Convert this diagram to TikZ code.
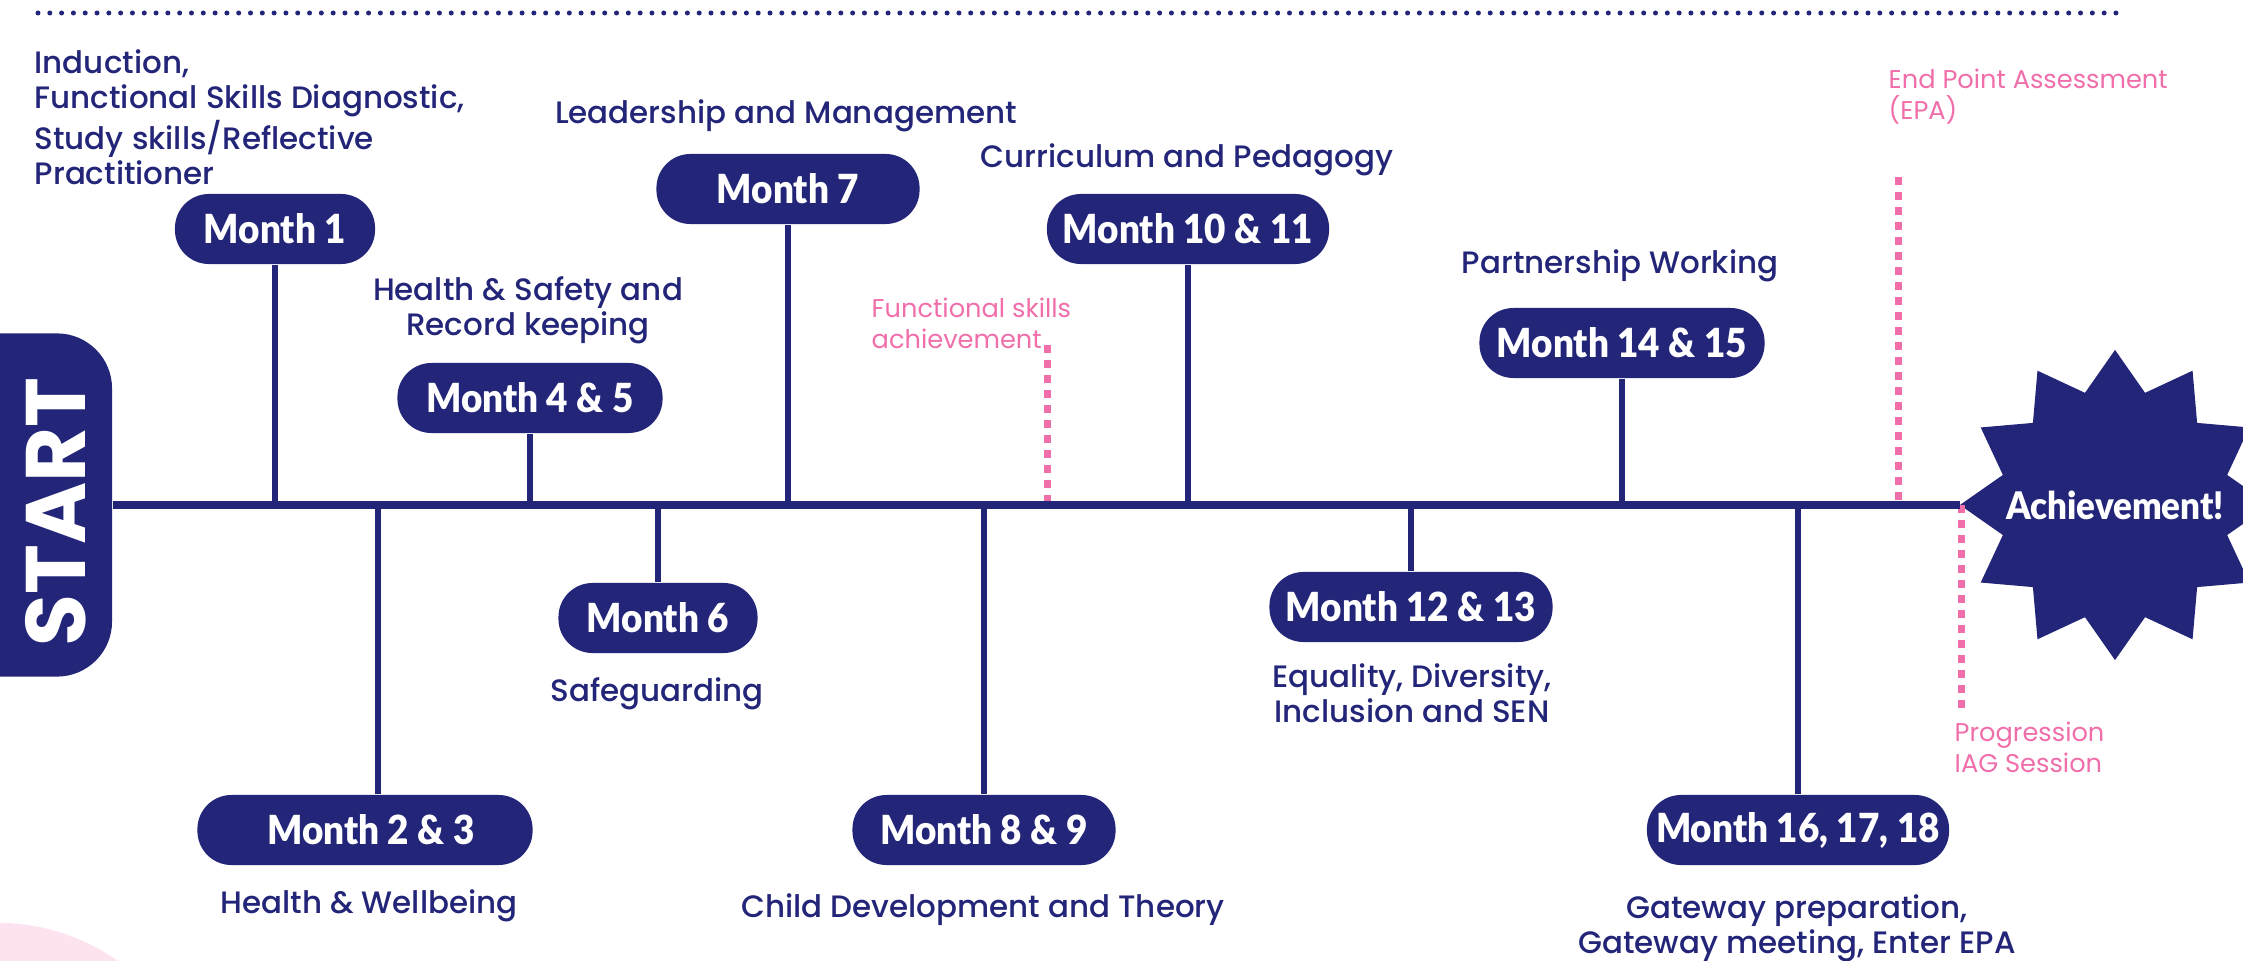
\documentclass[tikz,border=0pt]{standalone}
\usepackage{fontspec}
\setmainfont{Poppins}
\IfFontExistsTF{Poppins Medium}{\newfontfamily\descfont{Poppins Medium}}{%
  \IfFontExistsTF{Poppins SemiBold}{\newfontfamily\descfont{Poppins SemiBold}}{\newfontfamily\descfont{Poppins}[FakeBold=0.8]}}
\IfFontExistsTF{Lato Black}{%
  \newfontfamily\pillbase{Lato Black}[FakeStretch=0.92]\newcommand\pillfont{\pillbase}}{%
  \newfontfamily\pillbase{Lato}[FakeStretch=0.92]\newcommand\pillfont{\pillbase\bfseries}}
\usetikzlibrary{shapes.geometric}
\definecolor{navy}{RGB}{35,37,121}
\definecolor{pinktext}{RGB}{240,110,170}
\definecolor{blush}{RGB}{253,226,239}

\begin{document}
\begin{tikzpicture}[x=0.01cm,y=-0.01cm,
    pill/.style={fill=navy, rounded corners=0.34cm, minimum height=0.7cm, inner sep=0pt,
      text=white, font=\pillfont\fontsize{11.4}{13}\selectfont},
    topic/.style={text=navy, inner sep=0pt, align=center, font=\descfont\fontsize{8.8}{10}\selectfont},
    note/.style={text=pinktext, inner sep=0pt, align=left, font=\fontsize{7.3}{8.8}\selectfont},
    stemline/.style={draw=navy, line width=0.065cm},
    pinkdash/.style={draw=pinktext, line width=0.07cm, dash pattern=on 0.08cm off 0.07cm}]
  \useasboundingbox (0,0) rectangle (2243,961);
  \clip (0,0) rectangle (2243,961);

  % background and top rule
  \fill[blush] (-2,1130) circle (2.07cm);
  \draw[navy, line width=0.05cm, line cap=round, dash pattern=on 0pt off 0.118cm] (38,13) -- (2118,13);

  % start and finish
  \node[fill=navy, rounded corners=0.55cm, minimum width=1.72cm, minimum height=3.43cm, inner sep=0pt] (start) at (26,505) {};
  \node[rotate=90, text=white, font=\bfseries\fontsize{24}{26}\selectfont] (starttext) at (56,512) {START};
  \node[star, star points=12, star point ratio=1.336, minimum size=3.1cm, inner sep=0pt, outer sep=0pt, fill=navy] (ach) at (2115,505) {};
  \node[text=white, font=\pillfont\fontsize{10.8}{12}\selectfont] (achtext) at (ach) {Achievement!};

  % pink milestones
  \coordinate (fstop) at (1047,345);
  \coordinate (epatop) at (1898,177);
  \coordinate (progend) at (1961,708);
  \draw[pinkdash] (fstop) -- (fstop |- start.east);
  \draw[pinkdash] (epatop) -- (epatop |- start.east);
  \draw[pinkdash] (progend |- start.east) -- (progend);
  \node[note, anchor=west] (fsnote) at (871,323) {Functional skills\\achievement};
  \node[note, anchor=west] (epanote) at (1888,97) {End Point Assessment\\(EPA)};
  \node[note, anchor=west] (prognote) at (1954,747) {Progression\\IAG Session};

  % timeline
  \draw[navy, line width=0.078cm] (start.east) -- (ach.west);

  % months above the line
  \node[pill, minimum width=2cm] (m1) at (275,229) {Month 1};
  \node[pill, minimum width=2.65cm] (m45) at (530,398) {Month 4 \& 5};
  \node[pill, minimum width=2.63cm] (m7) at (788,189) {Month 7};
  \node[pill, minimum width=2.82cm] (m1011) at (1188,229) {Month 10 \& 11};
  \node[pill, minimum width=2.85cm] (m1415) at (1622,343) {Month 14 \& 15};
  \foreach \m in {m1,m45,m7,m1011,m1415}
    \draw[stemline] (\m.south) -- (\m.south |- start.east);

  % months below the line
  \node[pill, minimum width=3.35cm] (m23) at (365,830) {\hspace{0.12cm}Month 2 \& 3};
  \node[pill, minimum width=1.99cm] (m6) at (658,618) {Month 6};
  \node[pill, minimum width=2.63cm] (m89) at (984,830) {Month 8 \& 9};
  \node[pill, minimum width=2.83cm] (m1213) at (1411,607) {Month 12 \& 13};
  \node[pill, minimum width=3.02cm] (m161718) at (1798,830) {Month 16, 17, 18};
  \draw[stemline] ([xshift=0.13cm]m23.north) -- ([xshift=0.13cm]m23.north |- start.east);
  \foreach \m in {m6,m89,m1213,m161718}
    \draw[stemline] (\m.north) -- (\m.north |- start.east);

  % topics
  \node[topic, anchor=west, align=left] (induct) at (34,117) {Induction,\\Functional Skills Diagnostic,\\Study skills/Reflective\\Practitioner};
  \node[topic] (hs) at (528,310) {Health \& Safety and\\Record keeping};
  \node[topic] (lead) at (786,116) {Leadership and Management};
  \node[topic] (curr) at (1187,160) {Curriculum and Pedagogy};
  \node[topic] (part) at (1620,266) {Partnership Working};
  \node[topic] (safe) at (657,694) {Safeguarding};
  \node[topic] (hw) at (369,906) {Health \& Wellbeing};
  \node[topic] (child) at (983,910) {Child Development and Theory};
  \node[topic] (equal) at (1412,693) {Equality, Diversity,\\Inclusion and SEN};
  \node[topic] (gate) at (1797,928) {Gateway preparation,\\Gateway meeting, Enter EPA};
\end{tikzpicture}
\end{document}
